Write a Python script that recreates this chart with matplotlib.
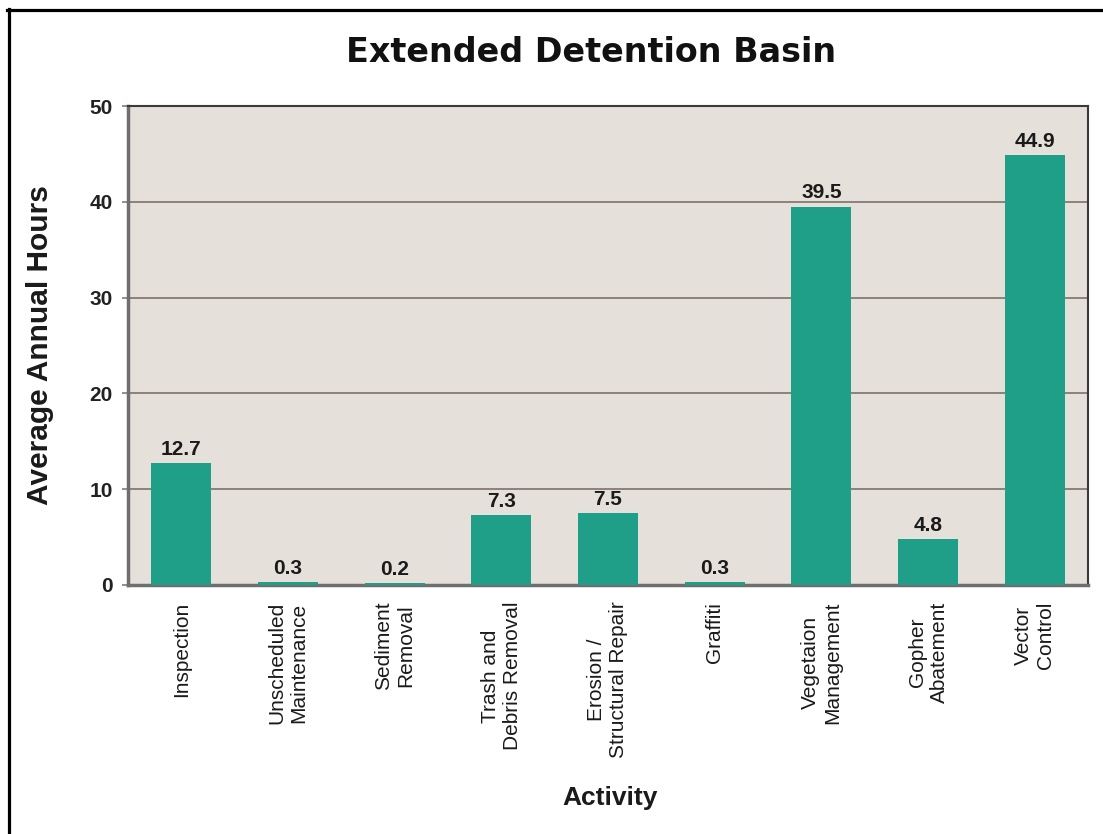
import matplotlib
matplotlib.use("Agg")
import matplotlib.pyplot as plt
from matplotlib.lines import Line2D

activities = [
    "Inspection",
    "Unscheduled\nMaintenance",
    "Sediment\nRemoval",
    "Trash and\nDebris Removal",
    "Erosion /\nStructural Repair",
    "Graffiti",
    "Vegetaion\nManagement",
    "Gopher\nAbatement",
    "Vector\nControl",
]
hours = [12.7, 0.3, 0.2, 7.3, 7.5, 0.3, 39.5, 4.8, 44.9]
hour_labels = ["12.7", "0.3", "0.2", "7.3", "7.5", "0.3", "39.5", "4.8", "44.9"]
y_ticks = [0, 10, 20, 30, 40, 50]

SANS = "Liberation Sans"
BAR = "#1f9e88"
FACE = "#e6e0da"
GRID = "#857a74"
INK = "#1a1a1a"

fig = plt.figure(figsize=(11.03, 8.34), dpi=100)
ax = fig.add_axes([128 / 1103, 1 - 585 / 834, 960 / 1103, 479 / 834])
ax.set_facecolor(FACE)

x = range(len(activities))
ax.bar(x, hours, width=0.56, color=BAR, zorder=3)
for xi, v, lab in zip(x, hours, hour_labels):
    ax.annotate(lab, (xi, v), xytext=(0, 3), textcoords="offset points",
                ha="center", va="bottom", fontsize=15, fontweight="bold",
                family=SANS, color=INK, zorder=4)

ax.set_xlim(-0.5, len(activities) - 0.5)
ax.set_ylim(0, 50)
ax.set_yticks(y_ticks)
ax.set_yticklabels([str(t) for t in y_ticks], fontsize=15, fontweight="bold",
                   family=SANS, color="#222222")
ax.yaxis.grid(True, color=GRID, linewidth=1.3, zorder=1)
ax.tick_params(axis="y", length=4.5, width=1.2, color=GRID, pad=6.5)

ax.set_xticks(list(x))
ax.set_xticklabels(activities, rotation=90, fontsize=15, family=SANS,
                   va="top", ha="center", multialignment="center", color=INK)
ax.tick_params(axis="x", length=0, pad=12)

for side in ("top", "right"):
    ax.spines[side].set_color("#3a3a3a")
    ax.spines[side].set_linewidth(1.5)
for side in ("left", "bottom"):
    ax.spines[side].set_color("#6e6e6e")
    ax.spines[side].set_linewidth(2.5)

ax.set_ylabel("Average Annual Hours", fontsize=21.5, fontweight="bold",
              family=SANS, color=INK)
ax.yaxis.set_label_coords((54 - 128) / 960, 0.5)

fig.text(591 / 1103, 1 - 52 / 834, "Extended Detention Basin", ha="center",
         va="center", fontsize=24, fontweight="bold", family="DejaVu Sans",
         color="#111111")
fig.text(610 / 1103, 1 - 798 / 834, "Activity", ha="center", va="center",
         fontsize=19, fontweight="bold", family=SANS, color=INK)

# outer frame: top and left edges only
fig.add_artist(Line2D([7 / 1103, 1], [1 - 10 / 834, 1 - 10 / 834],
                      transform=fig.transFigure, color="black", linewidth=2.3))
fig.add_artist(Line2D([8.5 / 1103, 8.5 / 1103], [0, 1 - 8.5 / 834],
                      transform=fig.transFigure, color="black", linewidth=2.3))

fig.savefig("out.png", dpi=100, facecolor="white")
